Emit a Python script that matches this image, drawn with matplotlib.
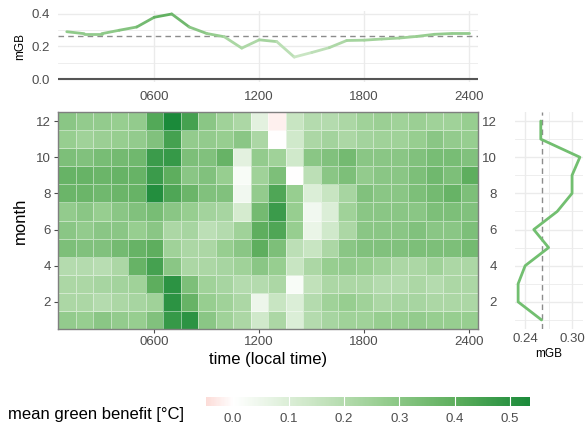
import matplotlib
matplotlib.use("Agg")
import matplotlib.pyplot as plt
import numpy as np
from matplotlib.colors import LinearSegmentedColormap, Normalize
from matplotlib.collections import LineCollection

plt.rcParams['font.family'] = ['Liberation Sans', 'DejaVu Sans']

# data
hours = np.arange(1, 25)
months = np.arange(1, 13)
hour_ticks = [6, 12, 18, 24]
hour_labels = ['0600', '1200', '1800', '2400']

# mean green benefit per hour (top panel)
gb_hour = [0.291, 0.279, 0.279, 0.300, 0.320, 0.380, 0.400, 0.320, 0.280, 0.260, 0.190, 0.241,
           0.230, 0.135, 0.163, 0.193, 0.237, 0.239, 0.246, 0.252, 0.262, 0.275, 0.280, 0.280]
# mean green benefit per month (right panel)
gb_month = [0.261, 0.231, 0.231, 0.240, 0.270, 0.251, 0.281, 0.300, 0.300, 0.310, 0.260, 0.260]
gb_mean = 0.262

# month x hour grid, rows are months 1..12
gb_grid = np.array([
    [0.28, 0.27, 0.30, 0.28, 0.27, 0.32, 0.48, 0.50, 0.30, 0.25, 0.22, 0.13,
     0.22, 0.10, 0.20, 0.23, 0.25, 0.25, 0.27, 0.27, 0.28, 0.27, 0.27, 0.27],
    [0.22, 0.22, 0.20, 0.22, 0.23, 0.25, 0.50, 0.38, 0.27, 0.25, 0.22, 0.05,
     0.15, 0.10, 0.20, 0.25, 0.27, 0.25, 0.22, 0.23, 0.23, 0.22, 0.22, 0.22],
    [0.22, 0.22, 0.23, 0.24, 0.25, 0.40, 0.50, 0.33, 0.25, 0.23, 0.20, 0.20,
     0.22, 0.02, 0.17, 0.22, 0.22, 0.22, 0.20, 0.20, 0.22, 0.20, 0.22, 0.22],
    [0.20, 0.20, 0.19, 0.22, 0.38, 0.45, 0.30, 0.22, 0.22, 0.23, 0.25, 0.30,
     0.27, 0.15, 0.22, 0.27, 0.28, 0.27, 0.25, 0.22, 0.22, 0.25, 0.22, 0.22],
    [0.33, 0.32, 0.32, 0.35, 0.38, 0.40, 0.25, 0.22, 0.22, 0.27, 0.30, 0.40,
     0.33, 0.18, 0.15, 0.22, 0.30, 0.32, 0.32, 0.32, 0.33, 0.33, 0.33, 0.35],
    [0.30, 0.28, 0.30, 0.30, 0.27, 0.30, 0.22, 0.23, 0.18, 0.20, 0.25, 0.40,
     0.43, 0.27, 0.06, 0.13, 0.22, 0.30, 0.30, 0.30, 0.32, 0.30, 0.30, 0.33],
    [0.28, 0.30, 0.27, 0.30, 0.32, 0.34, 0.30, 0.27, 0.24, 0.23, 0.12, 0.35,
     0.47, 0.27, 0.04, 0.10, 0.25, 0.30, 0.30, 0.30, 0.30, 0.33, 0.33, 0.32],
    [0.37, 0.37, 0.36, 0.37, 0.38, 0.52, 0.43, 0.37, 0.32, 0.32, 0.04, 0.28,
     0.43, 0.27, 0.10, 0.15, 0.23, 0.32, 0.30, 0.30, 0.33, 0.35, 0.38, 0.33],
    [0.38, 0.38, 0.37, 0.38, 0.38, 0.47, 0.40, 0.30, 0.32, 0.27, 0.02, 0.25,
     0.33, 0.00, 0.18, 0.30, 0.33, 0.28, 0.30, 0.30, 0.33, 0.36, 0.33, 0.40],
    [0.33, 0.32, 0.34, 0.35, 0.36, 0.47, 0.48, 0.33, 0.32, 0.38, 0.08, 0.28,
     0.25, 0.13, 0.30, 0.32, 0.35, 0.30, 0.30, 0.30, 0.32, 0.34, 0.34, 0.32],
    [0.27, 0.25, 0.26, 0.27, 0.28, 0.32, 0.45, 0.28, 0.28, 0.27, 0.30, 0.22,
     0.00, 0.13, 0.22, 0.24, 0.22, 0.24, 0.25, 0.25, 0.27, 0.30, 0.28, 0.27],
    [0.30, 0.28, 0.28, 0.27, 0.28, 0.42, 0.55, 0.45, 0.30, 0.25, 0.22, 0.08,
     -0.02, 0.15, 0.20, 0.20, 0.22, 0.25, 0.26, 0.25, 0.26, 0.25, 0.25, 0.27],
])

cbar_ticks = [0.0, 0.1, 0.2, 0.3, 0.4, 0.5]

# colour scale: pale red below zero, white at zero, green above
vmin, vmax = -0.049, 0.536
z = (0 - vmin) / (vmax - vmin)
cmap = LinearSegmentedColormap.from_list('gb', [
    (0.0, '#fcdcd8'),
    (z, '#ffffff'),
    (z + (1 - z) * 0.25, '#cfe8c9'),
    (z + (1 - z) * 0.5, '#98ce91'),
    (z + (1 - z) * 0.75, '#5dae5d'),
    (1.0, '#1b8a3a'),
])
norm = Normalize(vmin, vmax)

W, H = 587, 429
fig = plt.figure(figsize=(W / 100, H / 100), dpi=100)

def px_axes(x0, x1, y0, y1):
    return fig.add_axes([x0 / W, 1 - y1 / H, (x1 - x0) / W, (y1 - y0) / H])

tick_col = '#4d4d4d'
grid_col = '#ebebeb'

# heatmap
ax = px_axes(58, 478, 112, 329)
mesh = ax.pcolormesh(np.arange(0.5, 25), np.arange(0.5, 13), gb_grid, cmap=cmap, norm=norm,
                     edgecolors=(1, 1, 1, 0.45), linewidth=0.5)
ax.set_xlim(0.5, 24.5)
ax.set_ylim(0.5, 12.5)
ax.set_xticks(hour_ticks)
ax.set_xticklabels(hour_labels)
ax.set_yticks([2, 4, 6, 8, 10, 12])
ax.tick_params(labelsize=9.5, colors=tick_col, length=3, width=0.8, pad=2)
for s in ax.spines.values():
    s.set_color('#7f7f7f')
    s.set_linewidth(1.0)
ax.set_xlabel('time (local time)', fontsize=12, labelpad=3)
ax.set_ylabel('month', fontsize=12, labelpad=6)

# top panel
axt = px_axes(58, 478, 10.75, 82.25)
axt.set_xlim(0.5, 24.5)
axt.set_ylim(-0.02, 0.42)
axt.set_yticks([0.0, 0.2, 0.4])
axt.set_yticks([0.1, 0.3], minor=True)
axt.set_yticklabels(['0.0', '0.2', '0.4'])
axt.set_xticks(hour_ticks)
axt.set_xticklabels(hour_labels)
axt.grid(True, which='major', color=grid_col, lw=1.0)
axt.grid(True, which='minor', axis='y', color=grid_col, lw=0.6)
axt.set_axisbelow(True)
for s in axt.spines.values():
    s.set_visible(False)
axt.tick_params(which='both', length=0, labelsize=9.5, colors=tick_col, pad=6)
axt.axhline(0, color='#555555', lw=1.5)
axt.axhline(gb_mean, color='#8c8c8c', lw=1.0, ls=(0, (4, 3)))
pts = np.column_stack([hours, gb_hour])
segs = np.stack([pts[:-1], pts[1:]], axis=1)
seg_vals = (np.array(gb_hour[:-1]) + np.array(gb_hour[1:])) / 2
lc = LineCollection(segs, cmap=cmap, norm=norm, linewidths=2.0, capstyle='round')
lc.set_array(seg_vals)
axt.add_collection(lc)
axt.set_ylabel('mGB', fontsize=8.5, labelpad=4)

# right panel
axr = px_axes(515, 583, 112, 329)
axr.set_ylim(0.5, 12.5)
axr.set_xlim(0.227, 0.314)
axr.set_xticks([0.24, 0.30])
axr.set_xticks([0.27], minor=True)
axr.set_xticklabels(['0.24', '0.30'])
axr.set_yticks([2, 4, 6, 8, 10, 12])
axr.set_yticks([1, 3, 5, 7, 9, 11], minor=True)
axr.grid(True, which='major', color=grid_col, lw=1.0)
axr.grid(True, which='minor', color=grid_col, lw=0.6)
axr.set_axisbelow(True)
for s in axr.spines.values():
    s.set_visible(False)
axr.tick_params(which='both', length=0, labelsize=9.5, colors=tick_col)
axr.tick_params(axis='y', pad=13)
axr.tick_params(axis='x', pad=3)
axr.axvline(gb_mean, color='#8c8c8c', lw=1.0, ls=(0, (4, 3)))
axr.plot(gb_month, months, color='#72bf70', lw=2.0, solid_capstyle='round')
axr.set_xlabel('mGB', fontsize=8.5, labelpad=2)

# colour bar
cax = px_axes(206, 530, 397, 406)
cb = fig.colorbar(mesh, cax=cax, orientation='horizontal')
cb.outline.set_visible(False)
cb.set_ticks(cbar_ticks)
cb.set_ticklabels(['0.0', '0.1', '0.2', '0.3', '0.4', '0.5'])
cax.tick_params(length=0, labelsize=9.5, colors=tick_col, pad=5)
for t in cbar_ticks:
    cax.axvline(t, color='white', lw=0.8)
fig.text(8 / W, 1 - 414 / H, 'mean green benefit [°C]', fontsize=12, va='center', ha='left')

fig.savefig('out.png', dpi=100)
